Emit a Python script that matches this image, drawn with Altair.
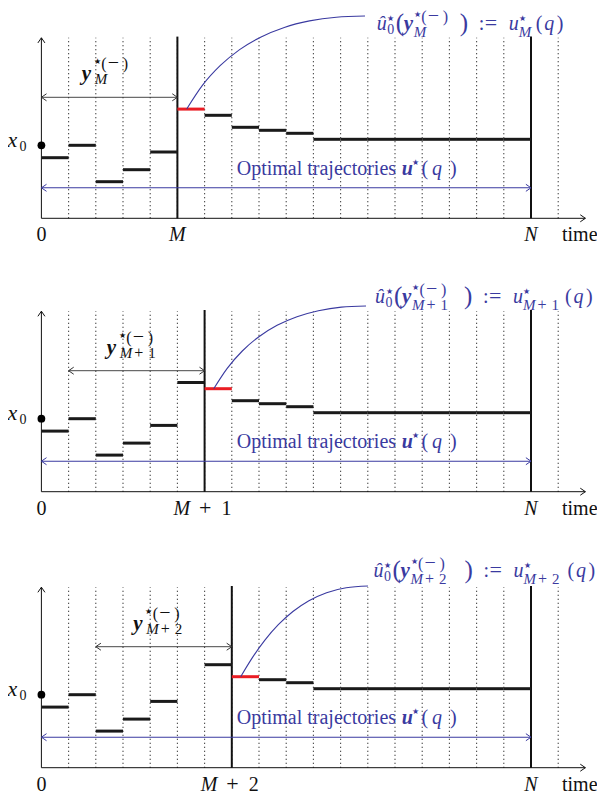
import altair as alt
import pandas as pd

# ------------------------------------------------------------------ data
N_STEPS = 18                      # horizon N
PANEL_M = [5, 6, 7]               # current time index shown in each panel
PANEL_SUB = [["M"], ["M", "+", "1"], ["M", "+", "2"]]
TRAJ = [60.6, 73.0, 36.6, 48.6, 66.3, 109.2, 103.0, 91.0, 88.0, 85.0,
        79.0, 79.0, 79.0, 79.0, 79.0, 79.0, 79.0, 79.0]
HIDDEN = [[], [], [5]]            # steps not drawn in a panel
X0_VALUE = 73.0
WINDOW = 5                        # length of the past window y_M
RANGE_Y = 121.0
OPT_Y = 30.5
AXIS_TOP = 180.5
AXIS_END = 20.0
GRID_T = list(range(1, 20))
CURVES = [
    [(5.342, 109.3), (5.919, 132.9), (6.570, 152.6), (7.287, 168.7), (8.077, 181.4),
     (8.930, 190.9), (9.857, 197.4), (10.842, 201.1), (11.897, 202.3)],
    [(6.335, 103.0), (6.831, 123.4), (7.386, 140.7), (7.996, 155.0), (8.665, 166.4),
     (9.397, 175.0), (10.184, 181.0), (11.029, 184.6), (11.934, 185.7)],
    [(7.327, 91.0), (7.757, 110.1), (8.217, 127.6), (8.710, 143.0), (9.246, 156.2),
     (9.835, 167.0), (10.485, 175.0), (11.206, 180.0), (12.007, 181.7)],
]

# ------------------------------------------------------------------ layout
W, H = 589, 784
PX0, PXU = 41.4, 27.2             # page x of t=0, pixels per step
PAGE_Y0 = 767.7                   # page y of value 0
PANEL_BASE = [218.3, 491.7, 767.7]
FONT = "Liberation Serif, DejaVu Serif"
BLACK = "#111111"
BLUE = "#3a3aa0"
RED = "#ea1d24"
ARROW = "M-1.6,-1.1L0,0L-1.6,1.1"
STAR = "\u2605"
FS = 20
LAB_Y = -23


def tx(px):
    return (px - PX0) / PXU


def vy(py):
    return PAGE_Y0 - py


def off(p):
    return PAGE_Y0 - PANEL_BASE[p]


XS = alt.Scale(domain=[tx(8), tx(8 + W)], nice=False, zero=False)
YS = alt.Scale(domain=[vy(8 + H), vy(8)], nice=False, zero=False)

segs, dots, heads, steps, curves = [], [], [], [], []
for p in range(3):
    o = off(p)
    M = PANEL_M[p]
    for t in GRID_T:
        dots.append(dict(x=t, x2=t, y=o, y2=o + AXIS_TOP))
    segs.append(dict(x=0, x2=0, y=o, y2=o + AXIS_TOP, w=1.0, c=BLACK))
    segs.append(dict(x=0, x2=AXIS_END, y=o, y2=o, w=1.0, c=BLACK))
    heads.append(dict(x=0, y=o + AXIS_TOP, a=270, c=BLACK))
    heads.append(dict(x=AXIS_END, y=o, a=0, c=BLACK))
    for t in (M, N_STEPS):
        segs.append(dict(x=t, x2=t, y=o, y2=o + AXIS_TOP + 1.2, w=2.0, c=BLACK))
    segs.append(dict(x=M - WINDOW, x2=M, y=o + RANGE_Y, y2=o + RANGE_Y, w=0.9, c="#333333"))
    heads.append(dict(x=M - WINDOW, y=o + RANGE_Y, a=180, c="#333333"))
    heads.append(dict(x=M, y=o + RANGE_Y, a=0, c="#333333"))
    segs.append(dict(x=0, x2=N_STEPS, y=o + OPT_Y, y2=o + OPT_Y, w=1.1, c=BLUE))
    heads.append(dict(x=0, y=o + OPT_Y, a=180, c=BLUE))
    heads.append(dict(x=N_STEPS, y=o + OPT_Y, a=0, c=BLUE))
    for k, val in enumerate(TRAJ):
        if k in HIDDEN[p]:
            continue
        steps.append(dict(x=k, x2=k + 1, y=o + val, y2=o + val,
                          c=RED if k == M else "#1a1a1a", o=1 if k == M else 0))
    for i, (t, val) in enumerate(CURVES[p]):
        curves.append(dict(panel=p, i=i, x=t, y=o + val))

# ------------------------------------------------------------------ texts
texts = []


def add(p, text, px, rel, size, style="up", color=BLACK, align="left"):
    texts.append(dict(x=tx(px), y=off(p) + rel, text=text, size=size,
                      style=style, color=color, align=align))


TOP_X = [376.7, 375.0, 373.5]
TOP_B = [188.0, 188.4, 191.0]
SUBW = [15, 40, 42]
YL_DX = [-27.7, -29.9, -30.5]


def sub_pieces(p, px, rel, color):
    parts = PANEL_SUB[p]
    add(p, parts[0], px, rel, 15, "it", color)
    if len(parts) > 1:
        add(p, parts[1], px + 14.5, rel, 16, "up", color)
        add(p, parts[2], px + 28.5, rel, 15, "up", color)


def sup_star_minus(p, px, rel, color):
    # superscript  star ( - )
    add(p, STAR, px, rel + 5, 8, "up", color)
    add(p, "(", px + 7.5, rel, 16, "up", color)
    add(p, "\u2212", px + 14, rel, 20, "up", color)
    add(p, ")", px + 29, rel, 16, "up", color)


for p in range(3):
    M = PANEL_M[p]
    # bottom labels
    add(p, "0", PX0, LAB_Y, FS, "up", align="center")
    add(p, "N", PX0 + N_STEPS * PXU, LAB_Y, FS, "it", align="center")
    add(p, "time", 562, LAB_Y, FS, "up")
    cm = PX0 + M * PXU
    if p == 0:
        add(p, "M", cm, LAB_Y, FS, "it", align="center")
    else:
        add(p, "M", cm - 31, LAB_Y, FS, "it")
        add(p, "+", cm - 5.5, LAB_Y, 22, "up")
        add(p, PANEL_SUB[p][2], cm + 17, LAB_Y, FS, "up")
    # x0
    add(p, "x", 7.5, 71.6, 22, "it")
    add(p, "0", 19.5, 67.6, 14, "up")
    # y window label
    yx = PX0 + (M - WINDOW / 2) * PXU + YL_DX[p]
    yb = 138
    add(p, "y", yx, yb, 21, "bi")
    sup_star_minus(p, yx + 12, yb + 11, BLACK)
    sub_pieces(p, yx + 13, yb - 4, BLACK)
    # optimal trajectories label
    add(p, "Optimal trajectories", 236.7, 43.3, FS, "up", BLUE)
    add(p, "u", 401.7, 43.3, FS, "bi", BLUE)
    add(p, STAR, 411.5, 53.5, 8, "up", BLUE)
    add(p, "(", 421.5, 43.3, FS, "up", BLUE)
    add(p, "q", 432.0, 43.3, FS, "it", BLUE)
    add(p, ")", 450.0, 43.3, FS, "up", BLUE)
    # top label
    x0, b = TOP_X[p], TOP_B[p]
    add(p, "\u00fb", x0, b, FS, "it", BLUE)
    add(p, STAR, x0 + 10.5, b + 9, 8, "up", BLUE)
    add(p, "0", x0 + 10.5, b - 4, 14, "up", BLUE)
    add(p, "(", x0 + 19, b - 1, 25, "up", BLUE)
    add(p, "y", x0 + 27, b, 21, "bi", BLUE)
    sup_star_minus(p, x0 + 37, b + 8, BLUE)
    sub_pieces(p, x0 + 37, b - 7, BLUE)
    gx = x0 + 37 + max(35, SUBW[p] + 1)
    bp = gx + 11
    add(p, ")", bp, b - 1, 25, "up", BLUE)
    add(p, ":", bp + 19, b, FS, "up", BLUE)
    add(p, "=", bp + 25, b, 22, "up", BLUE)
    ux = bp + 49
    add(p, "u", ux, b, FS, "it", BLUE)
    add(p, STAR, ux + 10, b + 9, 8, "up", BLUE)
    sub_pieces(p, ux + 10, b - 7, BLUE)
    qx = ux + 10 + SUBW[p] + 2
    add(p, "(", qx, b, FS, "up", BLUE)
    add(p, "q", qx + 8.5, b, FS, "it", BLUE)
    add(p, ")", qx + 21, b, FS, "up", BLUE)

# ------------------------------------------------------------------ chart
X = lambda f="x": alt.X(f"{f}:Q", scale=XS, axis=None)
Y = lambda f="y": alt.Y(f"{f}:Q", scale=YS, axis=None)

dotted = alt.Chart(pd.DataFrame(dots)).mark_rule(
    strokeDash=[1, 3], strokeWidth=1.1, color="#111111"
).encode(x=X(), x2="x2:Q", y=Y(), y2="y2:Q")

solid = alt.Chart(pd.DataFrame(segs)).mark_rule(strokeCap="butt").encode(
    x=X(), x2="x2:Q", y=Y(), y2="y2:Q",
    strokeWidth=alt.StrokeWidth("w:Q", scale=None),
    color=alt.Color("c:N", scale=None),
)

step_layer = alt.Chart(pd.DataFrame(steps)).mark_rule(strokeWidth=3, strokeCap="butt").encode(
    x=X(), x2="x2:Q", y=Y(), y2="y2:Q",
    color=alt.Color("c:N", scale=None),
    order="o:Q",
)

curve_layer = alt.Chart(pd.DataFrame(curves)).mark_line(
    interpolate="monotone", strokeWidth=1.1, color=BLUE
).encode(x=X(), y=Y(), detail="panel:N", order="i:Q")

head_layer = alt.Chart(pd.DataFrame(heads)).mark_point(
    shape=ARROW, filled=False, size=41, strokeWidth=1, opacity=1
).encode(x=X(), y=Y(), angle=alt.Angle("a:Q", scale=None), color=alt.Color("c:N", scale=None))

x0_layer = alt.Chart(pd.DataFrame(
    [dict(x=0, y=off(p) + X0_VALUE) for p in range(3)]
)).mark_circle(size=60, color="black", opacity=1).encode(x=X(), y=Y())

tdf = pd.DataFrame(texts)
text_layers = []
for style in ("up", "it", "bi"):
    for align in ("left", "center"):
        sub = tdf[(tdf["style"] == style) & (tdf["align"] == align)]
        if sub.empty:
            continue
        kw = dict(font=FONT, align=align, baseline="alphabetic")
        if style in ("it", "bi"):
            kw["fontStyle"] = "italic"
        if style == "bi":
            kw["fontWeight"] = "bold"
        text_layers.append(
            alt.Chart(sub).mark_text(**kw).encode(
                x=X(), y=Y(), text="text:N",
                size=alt.Size("size:Q", scale=None),
                color=alt.Color("color:N", scale=None),
            )
        )

chart = alt.layer(
    dotted, solid, step_layer, curve_layer, head_layer, x0_layer, *text_layers
).properties(
    width=W, height=H, padding=0, autosize=alt.AutoSizeParams(type="none")
).configure_view(stroke=None)

chart.save("out.html", embed_options={"renderer": "svg", "actions": False})
